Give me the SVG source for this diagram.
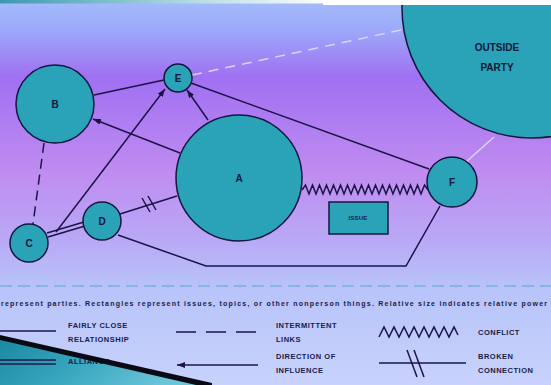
<svg xmlns="http://www.w3.org/2000/svg" width="551" height="385" viewBox="0 0 551 385">
<defs>
<linearGradient id="bg" x1="0" y1="0" x2="0" y2="1">
<stop offset="0" stop-color="#a4bcfa"/>
<stop offset="0.08" stop-color="#9ca8fa"/>
<stop offset="0.2" stop-color="#a070f2"/>
<stop offset="0.45" stop-color="#c08cf0"/>
<stop offset="0.62" stop-color="#b8a8f6"/>
<stop offset="0.75" stop-color="#b8c4fa"/>
<stop offset="1" stop-color="#c8d2fc"/>
</linearGradient>
<linearGradient id="topbar" x1="0" y1="0" x2="1" y2="0">
<stop offset="0" stop-color="#3c98b0"/>
<stop offset="0.6" stop-color="#b8dce6"/>
<stop offset="1" stop-color="#ffffff"/>
</linearGradient>
<linearGradient id="teal" x1="0" y1="0" x2="1" y2="0.3">
<stop offset="0" stop-color="#1a88a0"/>
<stop offset="0.5" stop-color="#38a6be"/>
<stop offset="1" stop-color="#6cc6da"/>
</linearGradient>
<marker id="arr" viewBox="0 0 8 6" refX="8" refY="3" markerWidth="8" markerHeight="6" markerUnits="userSpaceOnUse" orient="auto">
<path d="M0,0 L8,3 L0,6 z" fill="#1c1448"/>
</marker>
<style>
.node{fill:#2aa2b8;stroke:#14163e;stroke-width:1.5}
.lbl{font-family:"Liberation Sans",Arial,sans-serif;font-weight:bold;font-size:10px;fill:#10183a;text-anchor:middle}
.ln{fill:none;stroke:#1c1448;stroke-width:1.5}
.lg{font-family:"Liberation Sans",Arial,sans-serif;font-weight:bold;font-size:7.5px;letter-spacing:0.5px;fill:#18204a}
.light{fill:none;stroke:#dcd4f4;stroke-width:1.5}
</style>
</defs>
<rect x="0" y="0" width="551" height="385" fill="url(#bg)"/>
<g id="outside-party">
<circle class="node" cx="532" cy="8" r="130"/>
<text class="lbl" x="497" y="51">OUTSIDE</text>
<text class="lbl" x="497" y="71">PARTY</text>
</g>
<rect x="0" y="0" width="330" height="3.5" fill="url(#topbar)"/>
<rect x="323" y="0" width="228" height="5" fill="#ffffff"/>
<g id="connectors">
<line class="light" x1="192" y1="75" x2="401" y2="30" stroke-dasharray="10,7"/>
<line class="light" x1="466" y1="162" x2="494" y2="137"/>
<line class="ln" x1="94" y1="95" x2="164" y2="80"/>
<line class="ln" x1="180" y1="153" x2="93" y2="119" marker-end="url(#arr)"/>
<line class="ln" x1="56" y1="232" x2="165" y2="89" marker-end="url(#arr)"/>
<line class="ln" x1="208" y1="120" x2="187" y2="90" marker-end="url(#arr)"/>
<line class="ln" x1="191" y1="83" x2="429" y2="169"/>
<line class="ln" x1="44" y1="143" x2="33" y2="224" stroke-dasharray="10,6"/>
<line class="ln" x1="47" y1="233" x2="84" y2="222"/>
<line class="ln" x1="48" y1="237" x2="85" y2="226"/>
<line class="ln" x1="120" y1="214" x2="177" y2="196"/>
<line class="ln" x1="142" y1="198" x2="150" y2="212"/>
<line class="ln" x1="148" y1="196" x2="156" y2="210"/>
<polyline class="ln" points="118,235 206,266 406,266 440,206"/>
<polyline class="ln" stroke-width="1.2" points="302,190 305.5,185 309,194 312.5,185 316,194 319.5,185 323,194 326.5,185 330,194 333.5,185 337,194 340.5,185 344,194 347.5,185 351,194 354.5,185 358,194 361.5,185 365,194 368.5,185 372,194 375.5,185 379,194 382.5,185 386,194 389.5,185 393,194 396.5,185 400,194 403.5,185 407,194 410.5,185 414,194 417.5,185 421,194 424.5,185 428,190"/>
</g>
<g id="node-B"><circle class="node" cx="55" cy="104" r="39"/><text class="lbl" x="55" y="108">B</text></g>
<g id="node-E"><circle class="node" cx="178" cy="78" r="14"/><text class="lbl" x="178" y="82">E</text></g>
<g id="node-C"><circle class="node" cx="29" cy="243" r="19"/><text class="lbl" x="29" y="247">C</text></g>
<g id="node-D"><circle class="node" cx="102" cy="221" r="19"/><text class="lbl" x="102" y="225">D</text></g>
<g id="node-A"><circle class="node" cx="239" cy="178" r="63"/><text class="lbl" x="239" y="182">A</text></g>
<g id="node-F"><circle class="node" cx="452" cy="182" r="25"/><text class="lbl" x="452" y="186">F</text></g>
<g id="node-issue"><rect x="329" y="202" width="59" height="32" fill="#2aa2b8" stroke="#14163e" stroke-width="1.5"/><text class="lg" x="358" y="220" text-anchor="middle" style="font-size:6px;letter-spacing:0.2px">ISSUE</text></g>
<line x1="0" y1="286" x2="551" y2="286" stroke="#7ab0d8" stroke-width="1.5" stroke-dasharray="12,6"/>
<text class="lg" x="1" y="306" style="font-size:7px;letter-spacing:0" textLength="546" lengthAdjust="spacing">represent parties. Rectangles represent issues, topics, or other nonperson things. Relative size indicates relative power</text>
<polygon points="0,338 208,385 0,385" fill="url(#teal)"/>
<g id="legend">
<line class="ln" x1="0" y1="331" x2="56" y2="331"/>
<text class="lg" x="68" y="328">FAIRLY CLOSE</text>
<text class="lg" x="68" y="342">RELATIONSHIP</text>
<line class="ln" x1="176" y1="332" x2="258" y2="332" stroke-width="2" stroke-dasharray="20,10"/>
<text class="lg" x="276" y="328">INTERMITTENT</text>
<text class="lg" x="276" y="342">LINKS</text>
<polyline class="ln" stroke-width="1.2" points="379,337 384,327 389,337 394,327 399,337 404,327 409,337 414,327 419,337 424,327 429,337 434,327 439,337 444,327 449,337 454,327 458,335"/>
<text class="lg" x="478" y="335">CONFLICT</text>
<line class="ln" x1="0" y1="360" x2="56" y2="360"/>
<line class="ln" x1="0" y1="364" x2="56" y2="364"/>
<text class="lg" x="68" y="364">ALLIANCE</text>
<line class="ln" x1="258" y1="365" x2="177" y2="365" stroke-width="2" marker-end="url(#arr)"/>
<text class="lg" x="276" y="359">DIRECTION OF</text>
<text class="lg" x="276" y="373">INFLUENCE</text>
<line class="ln" x1="379" y1="363" x2="466" y2="363"/>
<line class="ln" x1="407" y1="350" x2="417" y2="377"/>
<line class="ln" x1="414" y1="350" x2="424" y2="377"/>
<text class="lg" x="478" y="359">BROKEN</text>
<text class="lg" x="478" y="373">CONNECTION</text>
</g>
<polygon points="0,335 212,383 212,385 196,385 0,340" fill="#0a0a14"/>
</svg>
